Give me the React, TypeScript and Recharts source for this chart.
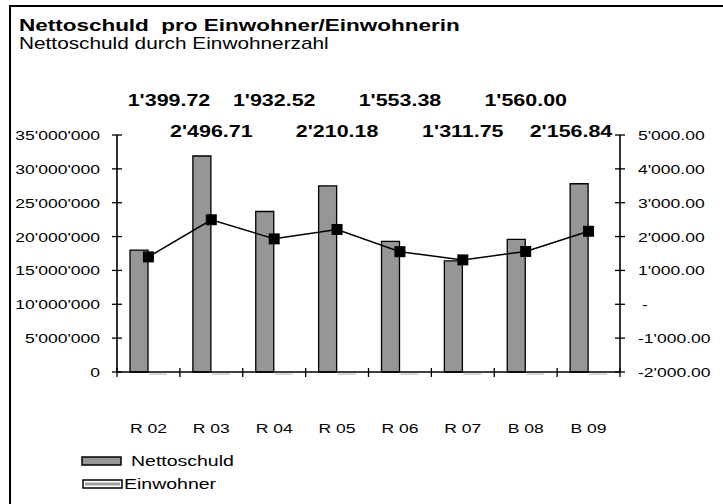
import React from 'react';
import { ComposedChart, Bar, Line, XAxis, YAxis, LabelList } from 'recharts';

const categories = ['R 02', 'R 03', 'R 04', 'R 05', 'R 06', 'R 07', 'B 08', 'B 09'];
const nettoschuld = [18000000, 31900000, 23700000, 27500000, 19300000, 16400000, 19600000, 27800000];
const einwohner = [12860, 12780, 12260, 12440, 12420, 12500, 12560, 12890];
const proEinwohner = [1399.72, 2496.71, 1932.52, 2210.18, 1553.38, 1311.75, 1560.0, 2156.84];
const leftTicks = [0, 5000000, 10000000, 15000000, 20000000, 25000000, 30000000, 35000000];
const rightTicks = [-2000, -1000, 0, 1000, 2000, 3000, 4000, 5000];

const data = categories.map((name, i) => ({
  name,
  netto: nettoschuld[i],
  einw: einwohner[i],
  proKopf: proEinwohner[i],
}));

const FONT = '"Liberation Sans", Arial, sans-serif';
const STRETCH = 1.3;
const PLOT_LEFT = 117;
const PLOT_RIGHT = 620;

const group = (n: number) => String(n).replace(/\B(?=(\d{3})+(?!\d))/g, "'");
const fmtInt = (v: number) => group(Math.round(v));
const fmtDec = (v: number) => {
  if (v === 0) return '-';
  const sign = v < 0 ? '-' : '';
  const [i, d] = Math.abs(v).toFixed(2).split('.');
  return sign + group(Number(i)) + '.' + d;
};

const LeftTick = (props: any) => {
  const { x, y, payload } = props;
  return (
    <g>
      <line x1={x - 5} x2={x + 5} y1={y} y2={y} stroke="#000" strokeWidth={1.3} />
      <text transform={`translate(${x - 17},${y + 5}) scale(${STRETCH},1)`} textAnchor="end" fontSize={13.5} fill="#000">
        {fmtInt(payload.value)}
      </text>
    </g>
  );
};

const RightTick = (props: any) => {
  const { x, y, payload } = props;
  const dx = payload.value === 0 ? 22 : 18;
  return (
    <g>
      <line x1={x - 5} x2={x + 5} y1={y} y2={y} stroke="#000" strokeWidth={1.3} />
      <text transform={`translate(${x + dx},${y + 5}) scale(${STRETCH},1)`} textAnchor="start" fontSize={13.5} fill="#000">
        {fmtDec(payload.value)}
      </text>
    </g>
  );
};

const XTick = (props: any) => {
  const { x, y, payload, index, width, visibleTicksCount } = props;
  const half = width / visibleTicksCount / 2;
  const last = index === visibleTicksCount - 1;
  return (
    <g>
      <line x1={x - half} x2={x - half} y1={y - 4} y2={y + 5} stroke="#000" strokeWidth={1.3} />
      {last && <line x1={x + half} x2={x + half} y1={y - 4} y2={y + 5} stroke="#000" strokeWidth={1.3} />}
      <text transform={`translate(${x},${y + 61}) scale(${STRETCH},1)`} textAnchor="middle" fontSize={13.5} fill="#000">
        {payload.value}
      </text>
    </g>
  );
};

const ValueLabel = (props: any) => {
  const { x, value, index } = props;
  const half = 41;
  const cx = Math.min(Math.max(x, PLOT_LEFT + 11 + half), PLOT_RIGHT - 8 - half);
  const cy = index % 2 === 0 ? 106 : 137;
  return (
    <text transform={`translate(${cx},${cy}) scale(${STRETCH},1)`} textAnchor="middle" fontSize={16.5} fontWeight="bold" fill="#000">
      {fmtDec(value)}
    </text>
  );
};

const SquareDot = (props: any) => {
  const { cx, cy } = props;
  if (cx == null || cy == null) return null;
  return <rect x={cx - 5.5} y={cy - 5.5} width={11} height={11} fill="#000" />;
};

// the Einwohner bars are far too small for the left scale; Excel shows them as a grey dash under the axis
const FlatBar = (props: any) => {
  const { x, y, width, height } = props;
  return <rect x={x} y={y + height + 1.5} width={width} height={1.2} fill="#c0c0c0" />;
};

export default function App() {
  return (
    <div style={{ position: 'relative', width: 723, height: 504, overflow: 'hidden', background: '#fff', fontFamily: FONT }}>
      <style dangerouslySetInnerHTML={{ __html: `body { margin: 0; }` }} />
      <div style={{ position: 'absolute', left: 9, top: 5, width: 740, height: 520, border: '2px solid #000' }} />
      <ComposedChart
        width={723}
        height={504}
        data={data}
        margin={{ top: 135, right: 0, bottom: 72, left: 0 }}
        barSize={18}
        barGap={1}
        style={{ fontFamily: FONT }}
      >
        <XAxis
          dataKey="name"
          height={60}
          tickSize={0}
          tickMargin={0}
          tickLine={false}
          axisLine={{ stroke: '#000', strokeWidth: 1.6 }}
          tick={<XTick />}
          interval={0}
        />
        <YAxis
          yAxisId="left"
          width={117}
          domain={[0, 35000000]}
          ticks={leftTicks}
          tickSize={0}
          tickMargin={0}
          tickLine={false}
          axisLine={{ stroke: '#000', strokeWidth: 1.6 }}
          tick={<LeftTick />}
          interval={0}
        />
        <YAxis
          yAxisId="right"
          orientation="right"
          width={103}
          domain={[-2000, 5000]}
          ticks={rightTicks}
          tickSize={0}
          tickMargin={0}
          tickLine={false}
          axisLine={{ stroke: '#000', strokeWidth: 1.6 }}
          tick={<RightTick />}
          interval={0}
        />
        <Bar yAxisId="left" dataKey="netto" name="Nettoschuld" fill="#969696" stroke="#000" strokeWidth={1.3} isAnimationActive={false} />
        <Bar yAxisId="left" dataKey="einw" name="Einwohner" fill="#c0c0c0" shape={<FlatBar />} isAnimationActive={false} />
        <Line
          yAxisId="right"
          dataKey="proKopf"
          stroke="#000"
          strokeWidth={1.5}
          dot={<SquareDot />}
          activeDot={false}
          isAnimationActive={false}
        >
          <LabelList dataKey="proKopf" content={<ValueLabel />} />
        </Line>
      </ComposedChart>
      <svg width={723} height={504} style={{ position: 'absolute', left: 0, top: 0, pointerEvents: 'none', fontFamily: FONT }}>
        <text transform={`translate(19,31) scale(${STRETCH},1)`} fontSize={17.3} fontWeight="bold" fill="#000" style={{ whiteSpace: 'pre' }}>
          {'Nettoschuld  pro Einwohner/Einwohnerin'}
        </text>
        <text transform={`translate(19,49) scale(${STRETCH},1)`} fontSize={16} fill="#000">
          Nettoschuld durch Einwohnerzahl
        </text>
        <rect x={82} y={457} width={39} height={8} fill="#969696" stroke="#000" strokeWidth={1.5} />
        <text transform={`translate(131,466) scale(${STRETCH},1)`} fontSize={15} fill="#000">
          Nettoschuld
        </text>
        <rect x={83} y={480} width={39} height={8} fill="#fff" stroke="#000" strokeWidth={1.5} />
        <rect x={85} y={482.5} width={35} height={3} fill="#a0a0a0" />
        <text transform={`translate(124,489) scale(${STRETCH},1)`} fontSize={15} fill="#000">
          Einwohner
        </text>
      </svg>
    </div>
  );
}
